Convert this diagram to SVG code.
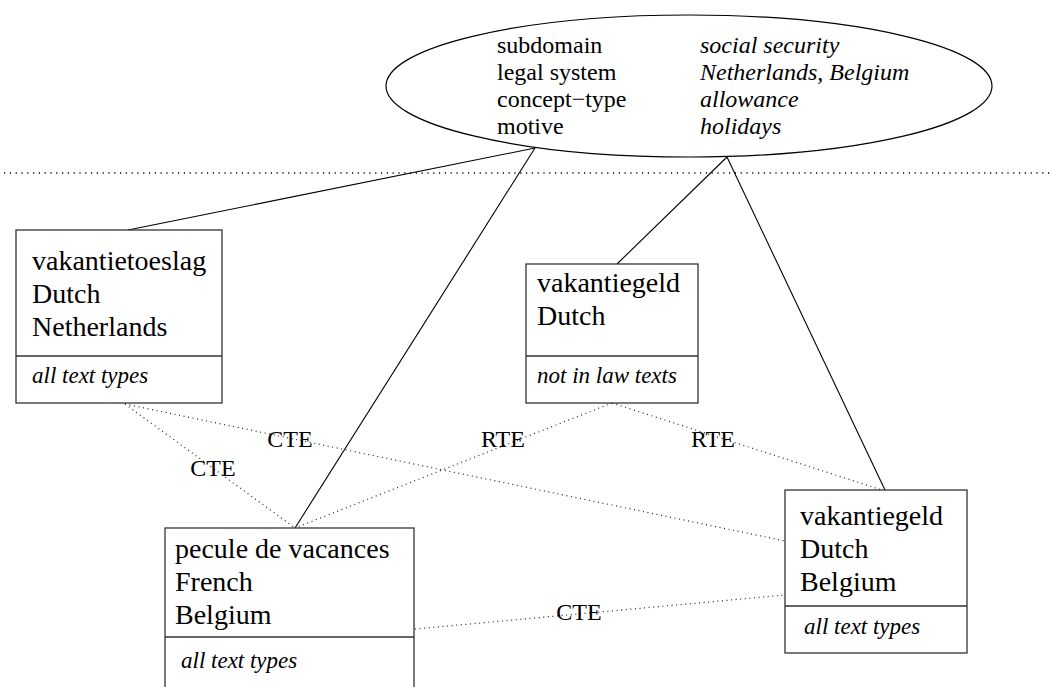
<svg xmlns="http://www.w3.org/2000/svg" width="1050" height="687" viewBox="0 0 1050 687">
<style>
.bg{fill:#fff}
.box{fill:#fff;stroke:#333;stroke-width:1.3}
.div{stroke:#333;stroke-width:1.3}
.t{font-family:"Liberation Serif","Times New Roman",serif;font-size:28px;fill:#000}
.ti{font-family:"Liberation Serif","Times New Roman",serif;font-size:23px;font-style:italic;fill:#000}
.e{font-family:"Liberation Serif","Times New Roman",serif;font-size:24px;fill:#000}
.ei{font-family:"Liberation Serif","Times New Roman",serif;font-size:24px;font-style:italic;fill:#000}
.lbl{font-family:"Liberation Serif","Times New Roman",serif;font-size:24px;fill:#000;text-anchor:middle}
.solid{stroke:#000;stroke-width:1.1;fill:none}
.dot{stroke:#222;stroke-width:1.2;stroke-dasharray:1 3.6;fill:none}
.sep{stroke:#000;stroke-width:1.6;stroke-dasharray:1.2 4.6;fill:none}
</style>
<rect class="bg" x="0" y="0" width="1050" height="687"/>
<line id="separator" class="sep" x1="4" y1="173" x2="1050" y2="173"/>
<g id="connectors">
<line class="solid" x1="535" y1="148" x2="128" y2="230"/>
<line class="solid" x1="535" y1="148" x2="295" y2="528"/>
<line class="solid" x1="727" y1="157" x2="617" y2="264"/>
<line class="solid" x1="727" y1="157" x2="885" y2="490"/>
<line class="dot" x1="125" y1="404" x2="785" y2="541"/>
<line class="dot" x1="125" y1="404" x2="295" y2="528"/>
<line class="dot" x1="612" y1="403" x2="295" y2="528"/>
<line class="dot" x1="612" y1="403" x2="882" y2="490"/>
<line class="dot" x1="415" y1="629" x2="785" y2="595"/>
<text class="lbl" x="290" y="447">CTE</text>
<text class="lbl" x="213" y="476">CTE</text>
<text class="lbl" x="503" y="447">RTE</text>
<text class="lbl" x="713" y="447">RTE</text>
<text class="lbl" x="579" y="620">CTE</text>
</g>
<g id="concept">
<ellipse cx="689" cy="86" rx="303" ry="71" fill="#fff" stroke="#000" stroke-width="1.2"/>
<text class="e" x="497" y="53">subdomain</text>
<text class="e" x="497" y="80">legal system</text>
<text class="e" x="497" y="107">concept−type</text>
<text class="e" x="497" y="134">motive</text>
<text class="ei" x="700" y="53">social security</text>
<text class="ei" x="700" y="80">Netherlands, Belgium</text>
<text class="ei" x="700" y="107">allowance</text>
<text class="ei" x="700" y="134">holidays</text>
</g>
<g id="vakantietoeslag-nl">
<rect class="box" x="16" y="230" width="206" height="173"/>
<line class="div" x1="16" y1="356" x2="222" y2="356"/>
<text class="t" x="32" y="270">vakantietoeslag</text>
<text class="t" x="32" y="303">Dutch</text>
<text class="t" x="32" y="336">Netherlands</text>
<text class="ti" x="32" y="383">all text types</text>
</g>
<g id="vakantiegeld-dutch">
<rect class="box" x="526" y="264" width="172" height="139"/>
<line class="div" x1="526" y1="356" x2="698" y2="356"/>
<text class="t" x="537" y="292">vakantiegeld</text>
<text class="t" x="537" y="325">Dutch</text>
<text class="ti" x="537" y="383">not in law texts</text>
</g>
<g id="pecule-be">
<rect class="box" x="165" y="528" width="249" height="175"/>
<line class="div" x1="165" y1="637" x2="414" y2="637"/>
<text class="t" x="175" y="558">pecule de vacances</text>
<text class="t" x="175" y="591">French</text>
<text class="t" x="175" y="624">Belgium</text>
<text class="ti" x="181" y="668">all text types</text>
</g>
<g id="vakantiegeld-be">
<rect class="box" x="785" y="490" width="182" height="163"/>
<line class="div" x1="785" y1="606" x2="967" y2="606"/>
<text class="t" x="800" y="525">vakantiegeld</text>
<text class="t" x="800" y="558">Dutch</text>
<text class="t" x="800" y="591">Belgium</text>
<text class="ti" x="804" y="634">all text types</text>
</g>
</svg>
